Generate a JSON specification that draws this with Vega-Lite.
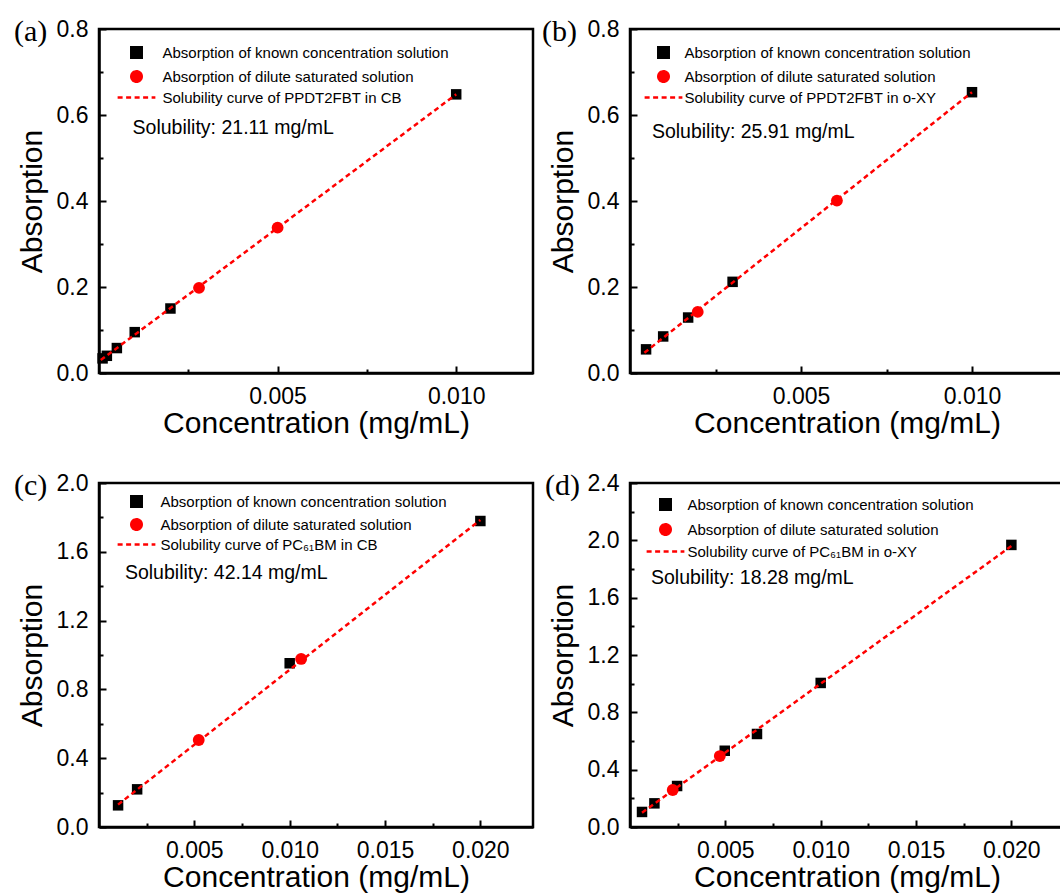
{
  "$schema": "https://vega.github.io/schema/vega-lite/v6.json",
  "background": "white",
  "padding": {"left": 12, "top": 15, "right": 0, "bottom": 0},
  "bounds": "flush",
  "columns": 2,
  "spacing": {"row": 110, "column": 97},
  "resolve": {"scale": {"x": "independent", "y": "independent", "color": "independent", "shape": "independent", "stroke": "independent", "strokeDash": "independent"}},
  "datasets": {
    "a_pts": [
      {"c": 0.0001, "a": 0.034, "s": "Absorption of known concentration solution"},
      {"c": 0.00022, "a": 0.040, "s": "Absorption of known concentration solution"},
      {"c": 0.0005, "a": 0.058, "s": "Absorption of known concentration solution"},
      {"c": 0.001, "a": 0.095, "s": "Absorption of known concentration solution"},
      {"c": 0.002, "a": 0.150, "s": "Absorption of known concentration solution"},
      {"c": 0.010, "a": 0.648, "s": "Absorption of known concentration solution"},
      {"c": 0.0028, "a": 0.198, "s": "Absorption of dilute saturated solution"},
      {"c": 0.005, "a": 0.338, "s": "Absorption of dilute saturated solution"}
    ],
    "a_fit": [
      {"c": 0.00005, "a": 0.030, "s": "Solubility curve of PPDT2FBT in CB"},
      {"c": 0.010, "a": 0.648, "s": "Solubility curve of PPDT2FBT in CB"}
    ],
    "a_note": [{"c": 0.00094, "a": 0.57, "t": "Solubility: 21.11 mg/mL"}],
    "b_pts": [
      {"c": 0.00047, "a": 0.055, "s": "Absorption of known concentration solution"},
      {"c": 0.00097, "a": 0.085, "s": "Absorption of known concentration solution"},
      {"c": 0.0017, "a": 0.129, "s": "Absorption of known concentration solution"},
      {"c": 0.0030, "a": 0.212, "s": "Absorption of known concentration solution"},
      {"c": 0.010, "a": 0.653, "s": "Absorption of known concentration solution"},
      {"c": 0.00198, "a": 0.142, "s": "Absorption of dilute saturated solution"},
      {"c": 0.00605, "a": 0.401, "s": "Absorption of dilute saturated solution"}
    ],
    "b_fit": [
      {"c": 0.00042, "a": 0.047, "s": "Solubility curve of PPDT2FBT in o-XY"},
      {"c": 0.010, "a": 0.653, "s": "Solubility curve of PPDT2FBT in o-XY"}
    ],
    "b_note": [{"c": 0.00064, "a": 0.56, "t": "Solubility: 25.91 mg/mL"}],
    "c_pts": [
      {"c": 0.001, "a": 0.126, "s": "Absorption of known concentration solution"},
      {"c": 0.002, "a": 0.219, "s": "Absorption of known concentration solution"},
      {"c": 0.010, "a": 0.952, "s": "Absorption of known concentration solution"},
      {"c": 0.020, "a": 1.779, "s": "Absorption of known concentration solution"},
      {"c": 0.00523, "a": 0.506, "s": "Absorption of dilute saturated solution"},
      {"c": 0.0106, "a": 0.977, "s": "Absorption of dilute saturated solution"}
    ],
    "c_fit": [
      {"c": 0.001, "a": 0.13, "s": "Solubility curve of PC₆₁BM in CB"},
      {"c": 0.020, "a": 1.785, "s": "Solubility curve of PC₆₁BM in CB"}
    ],
    "c_note": [{"c": 0.00136, "a": 1.477, "t": "Solubility: 42.14 mg/mL"}],
    "d_pts": [
      {"c": 0.00063, "a": 0.105, "s": "Absorption of known concentration solution"},
      {"c": 0.00128, "a": 0.165, "s": "Absorption of known concentration solution"},
      {"c": 0.00247, "a": 0.286, "s": "Absorption of known concentration solution"},
      {"c": 0.00497, "a": 0.532, "s": "Absorption of known concentration solution"},
      {"c": 0.00666, "a": 0.649, "s": "Absorption of known concentration solution"},
      {"c": 0.0100, "a": 1.005, "s": "Absorption of known concentration solution"},
      {"c": 0.0200, "a": 1.968, "s": "Absorption of known concentration solution"},
      {"c": 0.00224, "a": 0.258, "s": "Absorption of dilute saturated solution"},
      {"c": 0.00471, "a": 0.495, "s": "Absorption of dilute saturated solution"}
    ],
    "d_fit": [
      {"c": 0.00063, "a": 0.10, "s": "Solubility curve of PC₆₁BM in o-XY"},
      {"c": 0.0200, "a": 1.96, "s": "Solubility curve of PC₆₁BM in o-XY"}
    ],
    "d_note": [{"c": 0.0011, "a": 1.737, "t": "Solubility: 18.28 mg/mL"}]
  },
  "concat": [
    {
      "width": 434, "height": 344,
      "title": {"text": "(a)", "dx": -85, "dy": 44, "offset": 0, "baseline": "middle"},
      "encoding": {
        "x": {"field": "c", "type": "quantitative", "title": "Concentration (mg/mL)",
              "scale": {"domain": [0, 0.01215], "nice": false, "zero": false},
              "axis": {"values": [0.0025, 0.005, 0.0075, 0.01], "format": ".3f",
                       "labelExpr": "round(datum.value*400) % 2 == 0 ? datum.label : ''",
                       "tickSize": {"condition": {"test": "round(datum.value*400) % 2 == 0", "value": -7}, "value": -4}}},
        "y": {"field": "a", "type": "quantitative", "title": "Absorption",
              "scale": {"domain": [0, 0.8], "nice": false},
              "axis": {"values": [0, 0.1, 0.2, 0.3, 0.4, 0.5, 0.6, 0.7, 0.8], "format": ".1f",
                       "labelExpr": "round(datum.value*10) % 2 == 0 ? datum.label : ''",
                       "tickSize": {"condition": {"test": "round(datum.value*10) % 2 == 0", "value": -7}, "value": -4}}}
      },
      "layer": [
        {
          "data": {"name": "a_pts"},
          "mark": {"type": "point", "filled": true, "opacity": 1},
          "encoding": {
            "color": {"field": "s", "type": "nominal",
                      "scale": {"domain": ["Absorption of known concentration solution", "Absorption of dilute saturated solution", "Solubility curve of PPDT2FBT in CB"], "range": ["black", "red", "red"]},
                      "legend": {"title": null, "orient": "none", "legendX": 30, "legendY": 16, "labelOffset": 18.5, "rowPadding": 3, "padding": 0}},
            "shape": {"field": "s", "type": "nominal",
                      "scale": {"domain": ["Absorption of known concentration solution", "Absorption of dilute saturated solution", "Solubility curve of PPDT2FBT in CB"], "range": ["square", "circle", "M-3.6,0H3.6"]},
                      "legend": {"title": null, "orient": "none", "legendX": 30, "legendY": 16, "labelOffset": 18.5, "rowPadding": 3, "padding": 0}},
            "size": {"condition": {"test": "datum.s === 'Absorption of dilute saturated solution'", "value": 140}, "value": 110}
          }
        },
        {
          "data": {"name": "a_fit"},
          "mark": {"type": "line", "strokeWidth": 2.5},
          "encoding": {
            "stroke": {"field": "s", "type": "nominal",
                       "scale": {"domain": ["Absorption of known concentration solution", "Absorption of dilute saturated solution", "Solubility curve of PPDT2FBT in CB"], "range": ["black", "red", "red"]},
                       "legend": {"title": null, "orient": "none", "legendX": 30, "legendY": 16, "labelOffset": 18.5, "rowPadding": 3, "padding": 0}},
            "strokeDash": {"field": "s", "type": "nominal",
                       "scale": {"domain": ["Absorption of known concentration solution", "Absorption of dilute saturated solution", "Solubility curve of PPDT2FBT in CB"], "range": [[1, 0], [1, 0], [5, 3.5]]},
                       "legend": {"title": null, "orient": "none", "legendX": 30, "legendY": 16, "labelOffset": 18.5, "rowPadding": 3, "padding": 0}}
          }
        },
        {
          "data": {"name": "a_note"},
          "mark": {"type": "text", "fontSize": 19.5, "align": "left", "baseline": "middle", "color": "black"},
          "encoding": {"text": {"field": "t"}}
        }
      ]
    },
    {
      "width": 434, "height": 344,
      "title": {"text": "(b)", "dx": -88, "dy": 44, "offset": 0, "baseline": "middle"},
      "encoding": {
        "x": {"field": "c", "type": "quantitative", "title": "Concentration (mg/mL)",
              "scale": {"domain": [0, 0.01269], "nice": false, "zero": false},
              "axis": {"values": [0.0025, 0.005, 0.0075, 0.01], "format": ".3f",
                       "labelExpr": "round(datum.value*400) % 2 == 0 ? datum.label : ''",
                       "tickSize": {"condition": {"test": "round(datum.value*400) % 2 == 0", "value": -7}, "value": -4}}},
        "y": {"field": "a", "type": "quantitative", "title": "Absorption",
              "scale": {"domain": [0, 0.8], "nice": false},
              "axis": {"values": [0, 0.1, 0.2, 0.3, 0.4, 0.5, 0.6, 0.7, 0.8], "format": ".1f",
                       "labelExpr": "round(datum.value*10) % 2 == 0 ? datum.label : ''",
                       "tickSize": {"condition": {"test": "round(datum.value*10) % 2 == 0", "value": -7}, "value": -4}}}
      },
      "layer": [
        {
          "data": {"name": "b_pts"},
          "mark": {"type": "point", "filled": true, "opacity": 1},
          "encoding": {
            "color": {"field": "s", "type": "nominal",
                      "scale": {"domain": ["Absorption of known concentration solution", "Absorption of dilute saturated solution", "Solubility curve of PPDT2FBT in o-XY"], "range": ["black", "red", "red"]},
                      "legend": {"title": null, "orient": "none", "legendX": 26, "legendY": 16, "labelOffset": 13.5, "rowPadding": 3, "padding": 0}},
            "shape": {"field": "s", "type": "nominal",
                      "scale": {"domain": ["Absorption of known concentration solution", "Absorption of dilute saturated solution", "Solubility curve of PPDT2FBT in o-XY"], "range": ["square", "circle", "M-3.6,0H3.6"]},
                      "legend": {"title": null, "orient": "none", "legendX": 26, "legendY": 16, "labelOffset": 13.5, "rowPadding": 3, "padding": 0}},
            "size": {"condition": {"test": "datum.s === 'Absorption of dilute saturated solution'", "value": 140}, "value": 110}
          }
        },
        {
          "data": {"name": "b_fit"},
          "mark": {"type": "line", "strokeWidth": 2.5},
          "encoding": {
            "stroke": {"field": "s", "type": "nominal",
                       "scale": {"domain": ["Absorption of known concentration solution", "Absorption of dilute saturated solution", "Solubility curve of PPDT2FBT in o-XY"], "range": ["black", "red", "red"]},
                       "legend": {"title": null, "orient": "none", "legendX": 26, "legendY": 16, "labelOffset": 13.5, "rowPadding": 3, "padding": 0}},
            "strokeDash": {"field": "s", "type": "nominal",
                       "scale": {"domain": ["Absorption of known concentration solution", "Absorption of dilute saturated solution", "Solubility curve of PPDT2FBT in o-XY"], "range": [[1, 0], [1, 0], [5, 3.5]]},
                       "legend": {"title": null, "orient": "none", "legendX": 26, "legendY": 16, "labelOffset": 13.5, "rowPadding": 3, "padding": 0}}
          }
        },
        {
          "data": {"name": "b_note"},
          "mark": {"type": "text", "fontSize": 19.5, "align": "left", "baseline": "middle", "color": "black"},
          "encoding": {"text": {"field": "t"}}
        }
      ]
    },
    {
      "width": 434, "height": 344,
      "title": {"text": "(c)", "dx": -85, "dy": 44, "offset": 0, "baseline": "middle"},
      "encoding": {
        "x": {"field": "c", "type": "quantitative", "title": "Concentration (mg/mL)",
              "scale": {"domain": [0, 0.02276], "nice": false, "zero": false},
              "axis": {"values": [0.0025, 0.005, 0.0075, 0.01, 0.0125, 0.015, 0.0175, 0.02], "format": ".3f",
                       "labelExpr": "round(datum.value*400) % 2 == 0 ? datum.label : ''",
                       "tickSize": {"condition": {"test": "round(datum.value*400) % 2 == 0", "value": -7}, "value": -4}}},
        "y": {"field": "a", "type": "quantitative", "title": "Absorption",
              "scale": {"domain": [0, 2.0], "nice": false},
              "axis": {"values": [0, 0.2, 0.4, 0.6, 0.8, 1.0, 1.2, 1.4, 1.6, 1.8, 2.0], "format": ".1f",
                       "labelExpr": "round(datum.value*5) % 2 == 0 ? datum.label : ''",
                       "tickSize": {"condition": {"test": "round(datum.value*5) % 2 == 0", "value": -7}, "value": -4}}}
      },
      "layer": [
        {
          "data": {"name": "c_pts"},
          "mark": {"type": "point", "filled": true, "opacity": 1},
          "encoding": {
            "color": {"field": "s", "type": "nominal",
                      "scale": {"domain": ["Absorption of known concentration solution", "Absorption of dilute saturated solution", "Solubility curve of PC₆₁BM in CB"], "range": ["black", "red", "red"]},
                      "legend": {"title": null, "orient": "none", "legendX": 30, "legendY": 11, "labelOffset": 16.5, "rowPadding": 2, "padding": 0}},
            "shape": {"field": "s", "type": "nominal",
                      "scale": {"domain": ["Absorption of known concentration solution", "Absorption of dilute saturated solution", "Solubility curve of PC₆₁BM in CB"], "range": ["square", "circle", "M-3.6,0H3.6"]},
                      "legend": {"title": null, "orient": "none", "legendX": 30, "legendY": 11, "labelOffset": 16.5, "rowPadding": 2, "padding": 0}},
            "size": {"condition": {"test": "datum.s === 'Absorption of dilute saturated solution'", "value": 140}, "value": 110}
          }
        },
        {
          "data": {"name": "c_fit"},
          "mark": {"type": "line", "strokeWidth": 2.5},
          "encoding": {
            "stroke": {"field": "s", "type": "nominal",
                       "scale": {"domain": ["Absorption of known concentration solution", "Absorption of dilute saturated solution", "Solubility curve of PC₆₁BM in CB"], "range": ["black", "red", "red"]},
                       "legend": {"title": null, "orient": "none", "legendX": 30, "legendY": 11, "labelOffset": 16.5, "rowPadding": 2, "padding": 0}},
            "strokeDash": {"field": "s", "type": "nominal",
                       "scale": {"domain": ["Absorption of known concentration solution", "Absorption of dilute saturated solution", "Solubility curve of PC₆₁BM in CB"], "range": [[1, 0], [1, 0], [5, 3.5]]},
                       "legend": {"title": null, "orient": "none", "legendX": 30, "legendY": 11, "labelOffset": 16.5, "rowPadding": 2, "padding": 0}}
          }
        },
        {
          "data": {"name": "c_note"},
          "mark": {"type": "text", "fontSize": 19.5, "align": "left", "baseline": "middle", "color": "black"},
          "encoding": {"text": {"field": "t"}}
        }
      ]
    },
    {
      "width": 434, "height": 344,
      "title": {"text": "(d)", "dx": -85, "dy": 44, "offset": 0, "baseline": "middle"},
      "encoding": {
        "x": {"field": "c", "type": "quantitative", "title": "Concentration (mg/mL)",
              "scale": {"domain": [0, 0.02276], "nice": false, "zero": false},
              "axis": {"values": [0.0025, 0.005, 0.0075, 0.01, 0.0125, 0.015, 0.0175, 0.02], "format": ".3f",
                       "labelExpr": "round(datum.value*400) % 2 == 0 ? datum.label : ''",
                       "tickSize": {"condition": {"test": "round(datum.value*400) % 2 == 0", "value": -7}, "value": -4}}},
        "y": {"field": "a", "type": "quantitative", "title": "Absorption",
              "scale": {"domain": [0, 2.4], "nice": false},
              "axis": {"values": [0, 0.2, 0.4, 0.6, 0.8, 1.0, 1.2, 1.4, 1.6, 1.8, 2.0, 2.2, 2.4], "format": ".1f",
                       "labelExpr": "round(datum.value*5) % 2 == 0 ? datum.label : ''",
                       "tickSize": {"condition": {"test": "round(datum.value*5) % 2 == 0", "value": -7}, "value": -4}}}
      },
      "layer": [
        {
          "data": {"name": "d_pts"},
          "mark": {"type": "point", "filled": true, "opacity": 1},
          "encoding": {
            "color": {"field": "s", "type": "nominal",
                      "scale": {"domain": ["Absorption of known concentration solution", "Absorption of dilute saturated solution", "Solubility curve of PC₆₁BM in o-XY"], "range": ["black", "red", "red"]},
                      "legend": {"title": null, "orient": "none", "legendX": 28, "legendY": 14, "labelOffset": 14.5, "rowPadding": 4, "padding": 0}},
            "shape": {"field": "s", "type": "nominal",
                      "scale": {"domain": ["Absorption of known concentration solution", "Absorption of dilute saturated solution", "Solubility curve of PC₆₁BM in o-XY"], "range": ["square", "circle", "M-3.6,0H3.6"]},
                      "legend": {"title": null, "orient": "none", "legendX": 28, "legendY": 14, "labelOffset": 14.5, "rowPadding": 4, "padding": 0}},
            "size": {"condition": {"test": "datum.s === 'Absorption of dilute saturated solution'", "value": 140}, "value": 110}
          }
        },
        {
          "data": {"name": "d_fit"},
          "mark": {"type": "line", "strokeWidth": 2.5},
          "encoding": {
            "stroke": {"field": "s", "type": "nominal",
                       "scale": {"domain": ["Absorption of known concentration solution", "Absorption of dilute saturated solution", "Solubility curve of PC₆₁BM in o-XY"], "range": ["black", "red", "red"]},
                       "legend": {"title": null, "orient": "none", "legendX": 28, "legendY": 14, "labelOffset": 14.5, "rowPadding": 4, "padding": 0}},
            "strokeDash": {"field": "s", "type": "nominal",
                       "scale": {"domain": ["Absorption of known concentration solution", "Absorption of dilute saturated solution", "Solubility curve of PC₆₁BM in o-XY"], "range": [[1, 0], [1, 0], [5, 3.5]]},
                       "legend": {"title": null, "orient": "none", "legendX": 28, "legendY": 14, "labelOffset": 14.5, "rowPadding": 4, "padding": 0}}
          }
        },
        {
          "data": {"name": "d_note"},
          "mark": {"type": "text", "fontSize": 19.5, "align": "left", "baseline": "middle", "color": "black"},
          "encoding": {"text": {"field": "t"}}
        }
      ]
    }
  ],
  "config": {
    "font": "Liberation Sans",
    "view": {"stroke": "black", "strokeWidth": 2.5},
    "axis": {"domainColor": "black", "domainWidth": 2.5, "tickColor": "black", "tickWidth": 2,
             "labelFont": "Liberation Sans", "labelFontSize": 23, "labelColor": "black",
             "titleFont": "Liberation Sans", "titleFontSize": 30, "titleFontWeight": "normal", "titleColor": "black",
             "grid": false},
    "axisX": {"labelPadding": 19, "titlePadding": 0},
    "axisY": {"labelPadding": 18, "titlePadding": 9},
    "legend": {"labelFont": "Liberation Sans", "labelFontSize": 15, "labelColor": "black", "symbolStrokeWidth": 2.5, "symbolSize": 110, "labelLimit": 0},
    "title": {"font": "Liberation Serif", "fontSize": 30, "fontWeight": "normal", "anchor": "start", "frame": "group", "color": "black"}
  }
}
